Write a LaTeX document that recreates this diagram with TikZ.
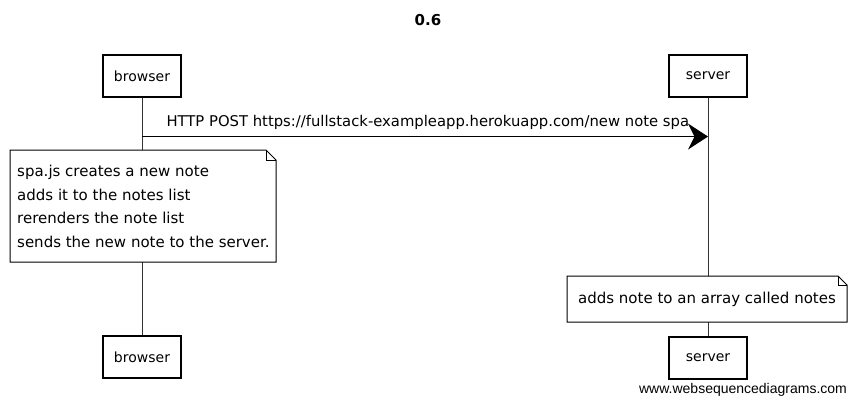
\documentclass[tikz,border=0pt]{standalone}
\usepackage{fontspec}
\setmainfont{DejaVu Sans}
\newfontfamily\wsdfont{Liberation Sans}
\usetikzlibrary{arrows.meta,calc,positioning}
\tikzstyle{actor}=[draw, line width=1.1pt, minimum width=78pt, minimum height=42pt, font=\fontsize{14}{16}\selectfont]
\tikzstyle{lifeline}=[line width=.6pt, black!80]
\tikzstyle{notetext}=[align=left, anchor=north west, inner sep=0pt, font=\fontsize{15}{23.5}\selectfont]
\tikzstyle{notebox}=[line width=1pt]
\tikzstyle{msg}=[line width=1pt, -{Stealth[length=20pt,width=26pt]}]

\begin{document}
\begin{tikzpicture}[x=1pt, y=-1pt]
	\useasboundingbox (0,0) rectangle (858,405);
	\node (title) at (428,20) {\fontsize{15}{17}\selectfont\bfseries 0.6};
	% actors
	\node[actor] (browser) at (142,76) {browser};
	\node[actor] (server) at (708,76) {server};
	\node[actor] (browserb) at (142,357) {browser};
	\node[actor] (serverb) at (708,358) {server};
	\draw[lifeline] (browser) -- (browserb);
	\draw[lifeline] (server) -- (serverb);
	% message
	\coordinate (m1) at ($(browser.south)+(0,39)$);
	\coordinate (m2) at ($(server.south)+(0,39)$);
	\draw[msg] (m1) -- (m2);
	\node[anchor=south west, font=\fontsize{14.8}{17}\selectfont] (post) at ($(m1)+(21,-3)$) {HTTP POST https://fullstack-exampleapp.herokuapp.com/new note spa};
	% note on browser
	\filldraw[notebox, fill=white] (10,150) -- (266,150) -- (276,160) -- (276,262) -- (10,262) -- cycle;
	\draw[notebox] (266,150) -- (266,160) -- (276,160);
	\node[notetext] (n1) at (17,165) {spa.js creates a new note\\adds it to the notes list\\rerenders the note list\\sends the new note to the server.};
	% note on server
	\filldraw[notebox, fill=white] (567,276) -- (838,276) -- (847,285) -- (847,322) -- (567,322) -- cycle;
	\draw[notebox] (838,276) -- (838,285) -- (847,285);
	\node[font=\fontsize{15}{17}\selectfont] (n2) at (707,299) {adds note to an array called notes};
	\node[font=\fontsize{14}{16}\selectfont\wsdfont] (wsd) at (743,390) {www.websequencediagrams.com};
\end{tikzpicture}
\end{document}
